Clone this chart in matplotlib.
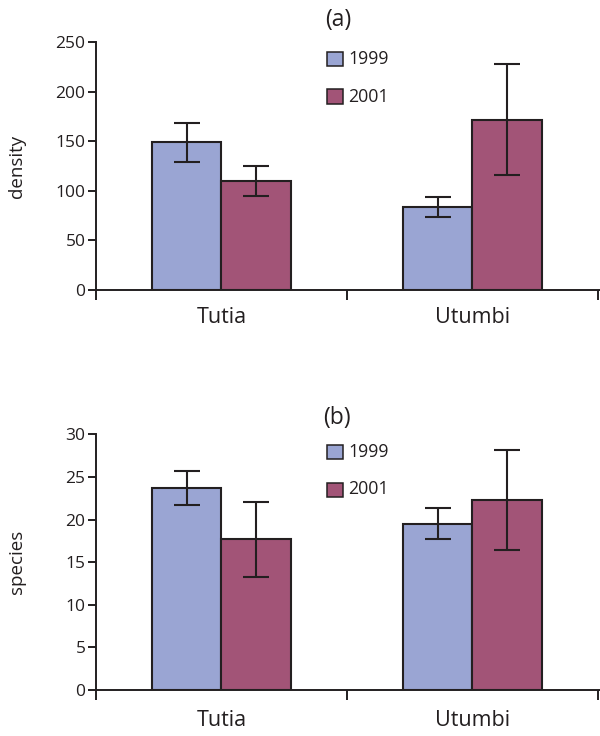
import matplotlib
matplotlib.use("Agg")
import matplotlib.pyplot as plt
from matplotlib.patches import Rectangle
import numpy as np

plt.rcParams['font.family'] = ['Open Sans', 'DejaVu Sans']

sites = ["Tutia", "Utumbi"]
years = ["1999", "2001"]

density_1999 = [149, 84]
density_1999_err = [19.5, 10]
density_2001 = [110, 172]
density_2001_err = [15.5, 56]

species_1999 = [23.7, 19.5]
species_1999_err = [2.0, 1.8]
species_2001 = [17.7, 22.3]
species_2001_err = [4.4, 5.9]

W, H = 600, 736
DPI = 100
fig = plt.figure(figsize=(W / DPI, H / DPI), dpi=DPI)

INK = "#231f20"
C1999 = "#9aa5d3"
C2001 = "#a25477"


def px_axes(left, top, right, bottom):
    return fig.add_axes([left / W, 1 - bottom / H, (right - left) / W, (bottom - top) / H])


def draw_panel(ax, v1, e1, v2, e2, ylim, yticks, ylabel, label_pad_px):
    x = np.arange(len(sites)) + 0.5
    bw = 0.278
    ax.bar(x - bw / 2, v1, width=bw, color=C1999, edgecolor=INK, linewidth=1.5, zorder=2)
    ax.bar(x + bw / 2, v2, width=bw, color=C2001, edgecolor=INK, linewidth=1.5, zorder=2)
    ax.errorbar(x - bw / 2, v1, yerr=e1, fmt='none', ecolor=INK, elinewidth=1.5,
                capsize=9.5, capthick=1.5, zorder=3)
    ax.errorbar(x + bw / 2, v2, yerr=e2, fmt='none', ecolor=INK, elinewidth=1.5,
                capsize=9.5, capthick=1.5, zorder=3)
    ax.set_xlim(0, 2.016)
    ax.set_ylim(*ylim)
    ax.set_yticks(yticks)
    ax.set_xticks([0, 1, 2])
    ax.set_xticklabels([])
    ax.set_xticks(x, minor=True)
    ax.set_xticklabels(sites, minor=True, fontsize=15.5, color=INK)
    ax.tick_params(axis='x', which='minor', length=0, pad=label_pad_px * 0.72)
    ax.tick_params(axis='x', which='major', length=7.5, width=1.4, color=INK, direction='out')
    ax.tick_params(axis='y', length=6, width=1.4, color=INK, direction='out',
                   labelsize=12.5, labelcolor=INK, pad=1.5)
    for s in ['top', 'right']:
        ax.spines[s].set_visible(False)
    for s in ['left', 'bottom']:
        ax.spines[s].set_linewidth(1.4)
        ax.spines[s].set_color(INK)
    ax.set_ylabel(ylabel, fontsize=13.5, color=INK)
    ax.yaxis.set_label_coords(-0.138, 0.5)


ax1 = px_axes(96, 42.3, 602, 290)
draw_panel(ax1, density_1999, density_1999_err, density_2001, density_2001_err,
           (0, 250), [0, 50, 100, 150, 200, 250], "density", 17)

ax2 = px_axes(96, 434.3, 602, 690)
draw_panel(ax2, species_1999, species_1999_err, species_2001, species_2001_err,
           (0, 30), [0, 5, 10, 15, 20, 25, 30], "species", 20)


def fig_text(xp, yp, s, **kw):
    fig.text(xp / W, 1 - yp / H, s, **kw)


def legend(top_y):
    for i, (yr, c) in enumerate(zip(years, [C1999, C2001])):
        y0 = top_y + i * 37.5
        fig.add_artist(Rectangle((327 / W, 1 - (y0 + 14) / H), 16 / W, 14 / H,
                                 transform=fig.transFigure, facecolor=c,
                                 edgecolor=INK, linewidth=1.1))
        fig_text(348, y0 + 7, yr, fontsize=12.8, color=INK, ha='left', va='center')


fig_text(338, 20, "(a)", fontsize=16.5, color=INK, ha='center', va='center')
fig_text(337, 418, "(b)", fontsize=16.5, color=INK, ha='center', va='center')
legend(52)
legend(445)

fig.savefig("out.png", dpi=DPI)
